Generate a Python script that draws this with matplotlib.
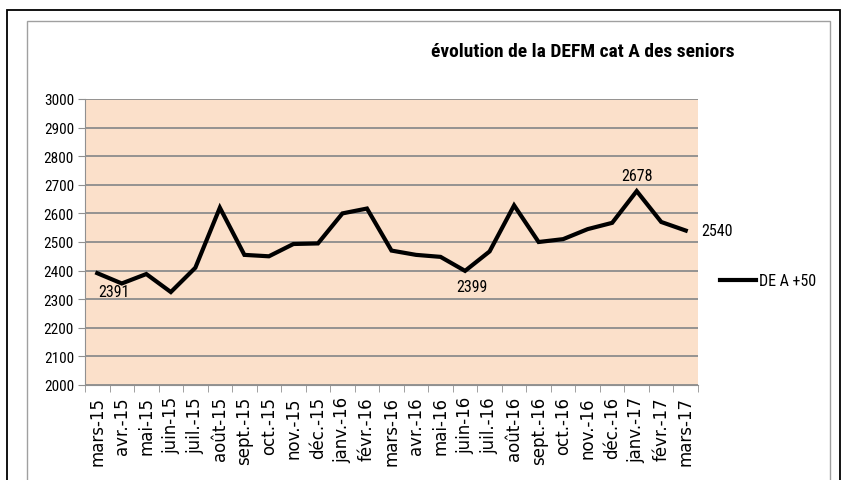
import numpy as np
import matplotlib.pyplot as plt
from matplotlib import font_manager
from matplotlib.patches import Rectangle

months = ['mars-15', 'avr.-15', 'mai-15', 'juin-15', 'juil.-15', 'août-15', 'sept.-15',
          'oct.-15', 'nov.-15', 'déc.-15', 'janv.-16', 'févr.-16', 'mars-16', 'avr.-16',
          'mai-16', 'juin-16', 'juil.-16', 'août-16', 'sept.-16', 'oct.-16', 'nov.-16',
          'déc.-16', 'janv.-17', 'févr.-17', 'mars-17']
values = [2391, 2355, 2388, 2325, 2410, 2620, 2455, 2450, 2493, 2495, 2600, 2617, 2470,
          2455, 2448, 2399, 2467, 2628, 2500, 2510, 2545, 2567, 2678, 2570, 2540]
yticks = [2000, 2100, 2200, 2300, 2400, 2500, 2600, 2700, 2800, 2900, 3000]
series_name = 'DE A +50'
title = 'évolution de la DEFM cat A des seniors'

installed = {f.name for f in font_manager.fontManager.ttflist}
narrow = 'Liberation Sans'
for name in ['Liberation Sans Narrow', 'Roboto Condensed', 'Open Sans Condensed', 'Liberation Sans']:
    if name in installed:
        narrow = name
        break

fig = plt.figure(figsize=(8.41, 4.81), dpi=100)
W, H = 841, 481
# outer frame and inner chart area border
fig.patches.append(Rectangle((7 / W, -0.01), (840 - 7) / W, (481 - 11) / H + 0.01,
                             transform=fig.transFigure, fill=False, ec='black', lw=1.3))
fig.patches.append(Rectangle((27 / W, -0.01), (830 - 27) / W, (481 - 22) / H + 0.01,
                             transform=fig.transFigure, fill=False, ec='#a0a0a0', lw=1))

ax = fig.add_axes([85 / W, 1 - 386 / H, (698 - 85) / W, (386 - 100) / H])
ax.set_facecolor('#fbe0ca')
x = np.arange(len(months))
line, = ax.plot(x, values, color='black', lw=3, solid_joinstyle='miter', label=series_name)
ax.set_xlim(-0.5, len(months) - 0.5)
ax.set_ylim(2000, 3000)
ax.set_yticks(yticks)
ax.set_yticklabels([str(v) for v in yticks], fontfamily=narrow, fontsize=11)
ax.set_xticks(x)
ax.set_xticklabels(months, rotation=90, fontsize=12, fontfamily='DejaVu Sans')
ax.set_xticks(np.arange(-0.5, len(months)), minor=True)
ax.tick_params(axis='x', which='major', length=0, pad=8)
ax.tick_params(axis='x', which='minor', length=5, color='#909090')
ax.tick_params(axis='y', length=5, color='#909090', pad=3)
ax.grid(axis='y', color='#8c8c8c', lw=1.3)
ax.set_axisbelow(True)
for s in ['top', 'right']:
    ax.spines[s].set_visible(False)
for s in ['left', 'bottom']:
    ax.spines[s].set_color('#909090')

lab = dict(fontfamily=narrow, fontsize=11.5)
ax.annotate(str(values[0]), (x[0], values[0]), xytext=(1, -8), textcoords='offset points',
            ha='left', va='top', **lab)
ax.annotate(str(values[15]), (x[15], values[15]), xytext=(5, -6), textcoords='offset points',
            ha='center', va='top', **lab)
ax.annotate(str(values[22]), (x[22], values[22]), xytext=(0, 6), textcoords='offset points',
            ha='center', va='bottom', **lab)
ax.annotate(str(values[24]), (x[24], values[24]), xytext=(11, 0), textcoords='offset points',
            ha='left', va='center', **lab)

fig.text(583 / W, 1 - 52 / H, title, ha='center', va='center', fontfamily=narrow,
         fontsize=14, fontweight='bold')
leg = fig.legend(handles=[line], loc='center left', bbox_to_anchor=(706 / W, 1 - 282 / H),
                 frameon=False, handlelength=2.2, handletextpad=0.2,
                 prop={'family': narrow, 'size': 11.5})

plt.savefig('out.png', dpi=100)
